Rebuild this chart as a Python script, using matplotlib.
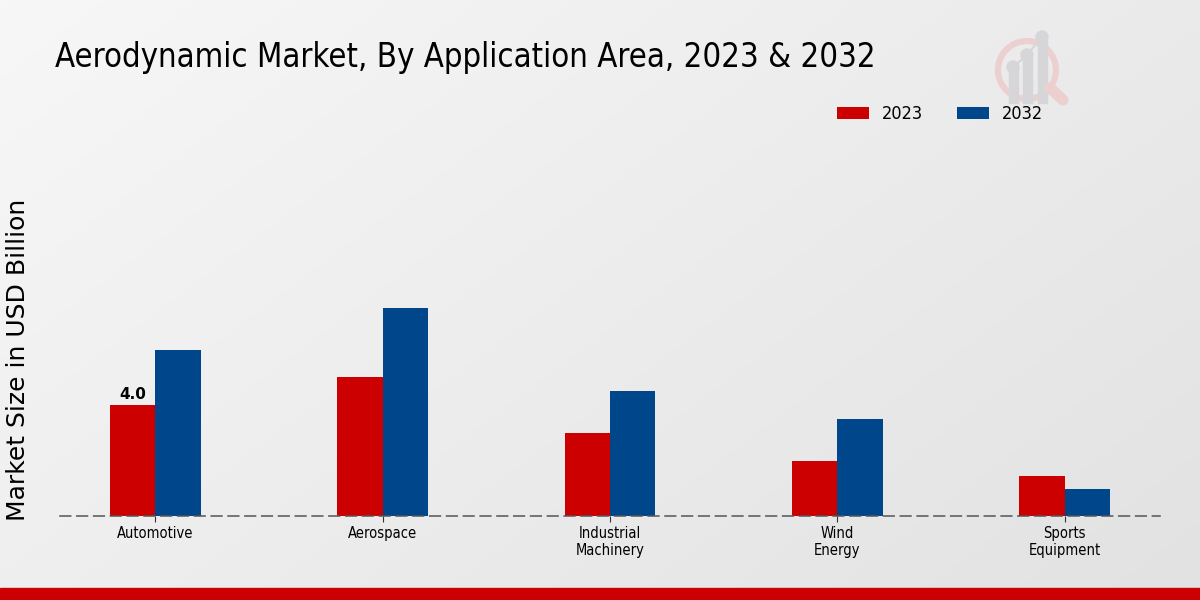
import matplotlib
matplotlib.use("Agg")
import matplotlib.pyplot as plt
import numpy as np
from matplotlib.patches import Rectangle, Circle

categories = ["Automotive", "Aerospace", "Industrial\nMachinery", "Wind\nEnergy", "Sports\nEquipment"]
years = ["2023", "2032"]
values_2023 = [4.0, 5.0, 3.0, 2.0, 1.45]
values_2032 = [6.0, 7.5, 4.5, 3.5, 0.97]
colors = ["#cc0000", "#00468b"]

plt.rcParams['font.family'] = ['DejaVu Sans']
font_kw = dict(fontstretch='condensed')

fig = plt.figure(figsize=(12, 6), dpi=100)

# background gradient
bg = fig.add_axes([0, 0, 1, 1], zorder=-10)
xx, yy = np.meshgrid(np.linspace(0, 1, 300), np.linspace(0, 1, 150))
grad = 0.6 * xx + 0.4 * yy
bg.imshow(grad, cmap=matplotlib.colors.LinearSegmentedColormap.from_list("g", ["#f7f7f7", "#e2e2e2"]),
          extent=[0, 1, 0, 1], aspect='auto', origin='upper')
bg.set_xlim(0, 1)
bg.set_ylim(0, 1)
bg.axis('off')
# bottom red band
bg.add_patch(Rectangle((0, 0), 1, 12 / 600, color="#cc0000", transform=bg.transAxes))

# faint logo watermark (pixel coords in its own square axes)
logo = fig.add_axes([990 / 1200, 1 - 112 / 600, 85 / 1200, 85 / 600], zorder=-5)
logo.set_xlim(990, 1075)
logo.set_ylim(112, 27)
logo.set_aspect('equal')
logo.axis('off')
logo.plot([1050, 1063], [88, 100], color="#ecd0d0", lw=8, solid_capstyle='round')
logo.add_patch(Circle((1027, 70), 29, fill=False, lw=4.5, ec="#ecd0d0"))
for bx, top in [(1013, 70), (1027, 58), (1042, 40)]:
    logo.add_patch(Rectangle((bx - 4.5, top), 9, 103 - top, color="#d6d6d9"))
    logo.add_patch(Circle((bx, top - 3), 6, color="#d6d6d9"))
logo.plot([1013, 1027, 1042], [67, 55, 37], color="#d6d6d9", lw=1.5)

ax = fig.add_axes([60 / 1200, 84 / 600, 1100 / 1200, 277.5 / 600])
ax.patch.set_alpha(0)
x = np.arange(len(categories))
w = 0.2
b1 = ax.bar(x - w / 2, values_2023, w, color=colors[0], label=years[0])
b2 = ax.bar(x + w / 2, values_2032, w, color=colors[1], label=years[1])
ax.set_xlim(-0.42, len(categories) - 1 + 0.42)
ax.set_ylim(0, 10)
ax.text(x[0] - w / 2, values_2023[0] + 0.1, f"{values_2023[0]:.1f}", ha='center', va='bottom',
        fontsize=11, fontweight='bold')

for s in ["top", "right", "left"]:
    ax.spines[s].set_visible(False)
ax.spines["bottom"].set_linewidth(1.1)
ax.spines["bottom"].set_linestyle((0, (7, 4)))
ax.spines["bottom"].set_color("#555555")
ax.set_yticks([])
ax.set_xticks(x)
ax.set_xticklabels(categories, fontsize=10.5, **font_kw)
ax.tick_params(axis='x', length=4, color="#333333", pad=3)

fig.text(55 / 1200, 1 - 57 / 600, "Aerodynamic Market, By Application Area, 2023 & 2032",
         fontsize=23.6, va='center', ha='left', **font_kw)
fig.text(18 / 1200, 1 - 360 / 600, "Market Size in USD Billion", rotation=90, fontsize=18,
         va='center', ha='center')

leg = fig.legend(handles=[b1, b2], labels=years, loc='center', bbox_to_anchor=(940 / 1200, 1 - 114 / 600),
                 ncol=2, frameon=False, handlelength=1.77, handleheight=0.67,
                 columnspacing=1.9, handletextpad=0.7, prop=dict(size=13, stretch='condensed'))

fig.savefig("out.png", dpi=100)
